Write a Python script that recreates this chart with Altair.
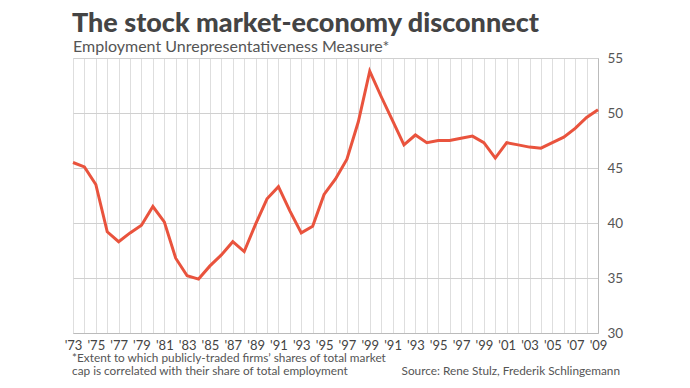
import altair as alt
import pandas as pd

# Data
values = [45.5, 45.1, 43.5, 39.2, 38.3, 39.1, 39.8, 41.5, 40.1, 36.8,
          35.2, 34.9, 36.1, 37.1, 38.3, 37.4, 39.9, 42.2, 43.3, 41.1,
          39.1, 39.7, 42.6, 44.0, 45.8, 49.2, 53.8, 51.5, 49.3, 47.1,
          48.0, 47.3, 47.5, 47.5, 47.7, 47.9, 47.3, 45.9, 47.3, 47.1,
          46.9, 46.8, 47.3, 47.8, 48.6, 49.6, 50.3]
periods = list(range(len(values)))
tick_labels = ["'73", "'75", "'77", "'79", "'81", "'83", "'85", "'87", "'89",
               "'91", "'93", "'95", "'97", "'99", "'91", "'93", "'95", "'97",
               "'99", "'01", "'03", "'05", "'07", "'09"]
y_ticks = [30, 35, 40, 45, 50, 55]

df = pd.DataFrame({"period": periods, "value": values})
label_positions = periods[::2]

FONT = "Lato"
W, H = 525, 275

label_expr = "[" + ",".join('"' + t + '"' for t in tick_labels) + "][datum.value / 2]"

xscale = alt.Scale(domain=[0, len(values) - 1], nice=False)
yscale = alt.Scale(domain=[30, 55], nice=False, zero=False)

# grid layer: vertical gridline at every period, horizontal grid, right axis
grid = alt.Chart(df).mark_line(opacity=0).encode(
    x=alt.X("period:Q", scale=xscale,
            axis=alt.Axis(orient="bottom", values=periods, labels=False, ticks=False,
                          title=None, domain=False, gridColor="#dedede", gridWidth=1)),
    y=alt.Y("value:Q", scale=yscale,
            axis=alt.Axis(orient="right", values=y_ticks, title=None, ticks=False,
                          labelFontSize=13.5, labelColor="#555", labelFont=FONT,
                          labelPadding=9, gridColor="#d0d0d0", domainColor="#bbbbbb")),
)

line = alt.Chart(df).mark_line(color="#E9533D", strokeWidth=3).encode(
    x=alt.X("period:Q", scale=xscale,
            axis=alt.Axis(orient="bottom", values=label_positions, labelExpr=label_expr,
                          title=None, ticks=False, grid=False, labelOverlap=False,
                          labelFlush=False, labelFontSize=13, labelColor="#444",
                          labelFont=FONT, labelPadding=6, domainColor="#bbbbbb")),
    y=alt.Y("value:Q", scale=yscale, axis=None),
)

def txt(s, x, y, size, color, weight="normal", align="left"):
    return alt.Chart(alt.Data(values=[{}])).mark_text(
        font=FONT, fontSize=size, color=color, fontWeight=weight,
        align=align, baseline="alphabetic"
    ).encode(x=alt.value(x), y=alt.value(y), text=alt.value(s))

title = txt("The stock market-economy disconnect", -1, -26, 27, "#444", weight=900)
subtitle = txt("Employment Unrepresentativeness Measure*", 0, -6, 16, "#555")
foot1 = txt("*Extent to which publicly-traded firms\u2019 shares of total market", -1, 304, 11.8, "#555")
foot2 = txt("cap is correlated with their share of total employment", -1, 317, 11.8, "#555")
source = txt("Source: Rene Stulz, Frederik Schlingemann", 547, 317, 11.8, "#555", align="right")

chart = alt.layer(grid, line, title, subtitle, foot1, foot2, source).resolve_axis(
    x="independent", y="independent"
).properties(
    width=W, height=H,
    autosize=alt.AutoSizeParams(type="none"),
    padding={"left": 65, "top": 50, "right": 84, "bottom": 55},
).configure_view(stroke=None).configure(background="white")

chart.save("out.html", embed_options={"renderer": "svg", "actions": False})
